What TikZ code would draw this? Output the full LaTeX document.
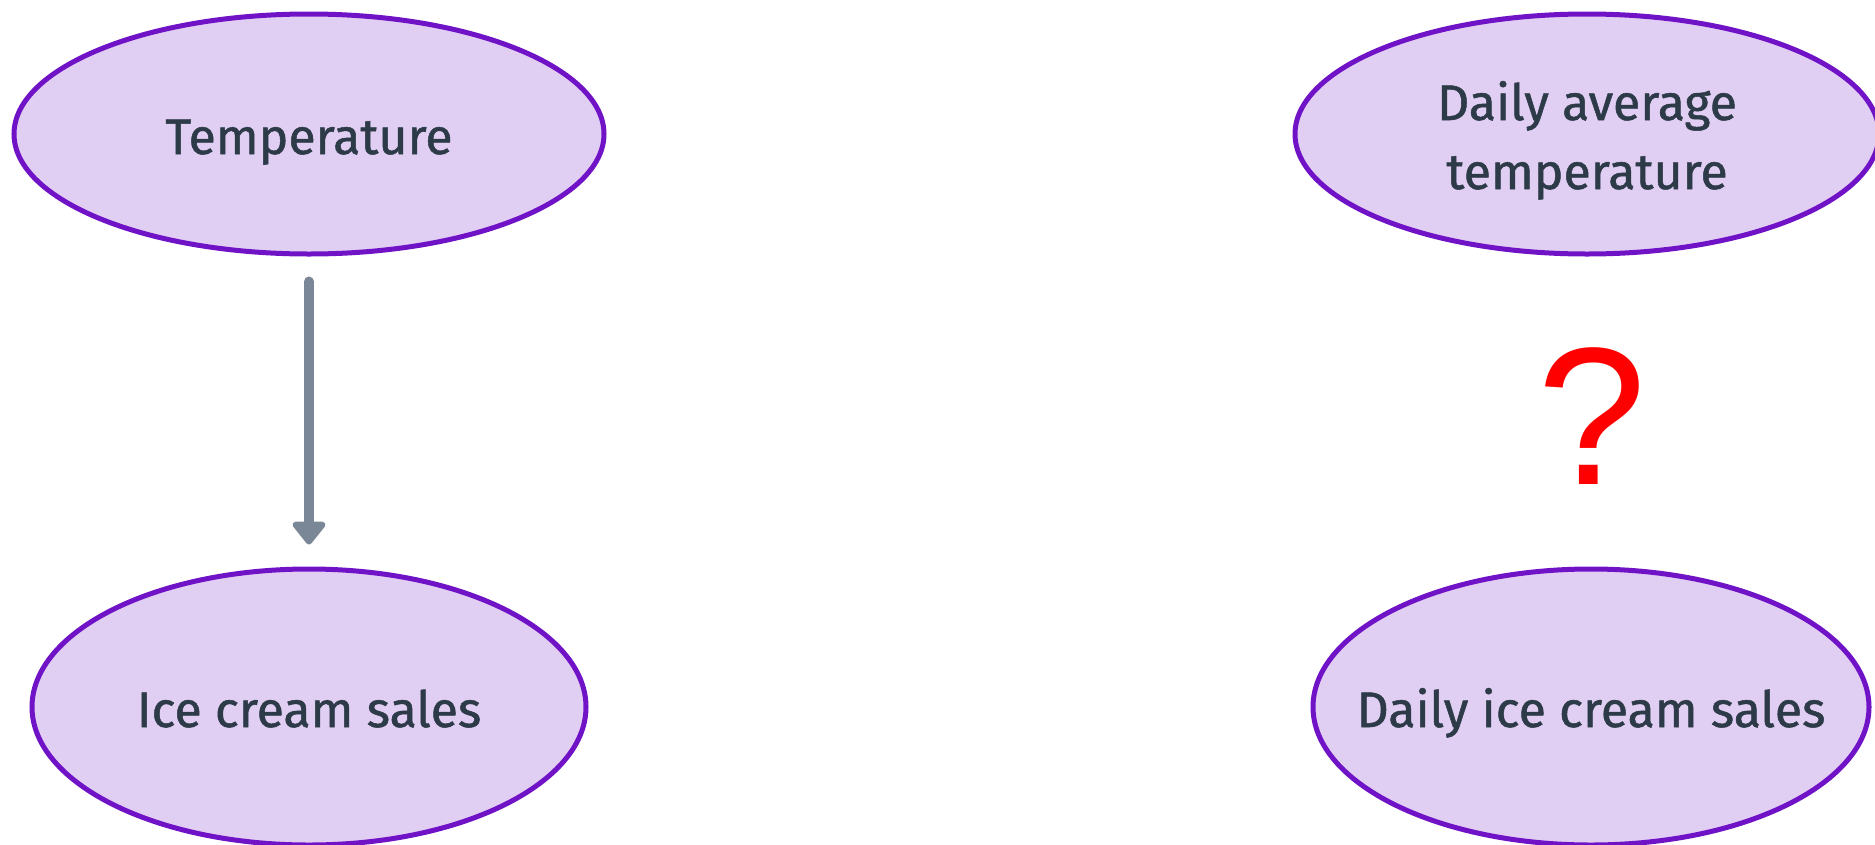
\documentclass[tikz,border=0pt]{standalone}
\usepackage{fontspec}
\setmainfont{Fira Sans}
\newfontfamily\lblfont[FakeBold=1.0]{Fira Sans}
\newfontfamily\qfont{Liberation Sans}
\usetikzlibrary{shapes.geometric,arrows.meta}
\definecolor{fillc}{HTML}{E1CEF3}
\definecolor{linec}{HTML}{7013C7}
\definecolor{txtc}{HTML}{2D3A48}
\definecolor{arrc}{HTML}{7A8796}
\tikzset{
  var/.style={ellipse, draw=linec, fill=fillc, line width=5pt, inner sep=-60pt,
    text=txtc, align=center, font=\lblfont\fontsize{50}{69}\selectfont,
    text height=40pt, text depth=0pt},
  causal/.style={draw=arrc, line width=10pt, line cap=round,
    -{Triangle[width=38pt,length=25pt,round]}, shorten <=25pt, shorten >=22pt}
}
\begin{document}
\begin{tikzpicture}[x=1pt,y=-1pt]
\useasboundingbox (0,0) rectangle (1875,844);
\node[var, minimum width=590pt, minimum height=240pt] (t) at (309,134) {Temperature};
\node[var, minimum width=554pt, minimum height=276pt] (s) at (309,707) {Ice cream sales};
\node[var, minimum width=584pt, minimum height=240pt, text height=110pt] (dt) at (1587,134) {Daily average\\temperature};
\node[var, minimum width=556pt, minimum height=276pt] (ds) at (1591,707) {Daily ice cream sales};
\draw[causal] (t.south) -- (s.north);
\node[text=red, anchor=base, inner sep=0pt, font=\qfont\fontsize{196}{196}\selectfont] (q) at (1592,484) {?};
\end{tikzpicture}
\end{document}
